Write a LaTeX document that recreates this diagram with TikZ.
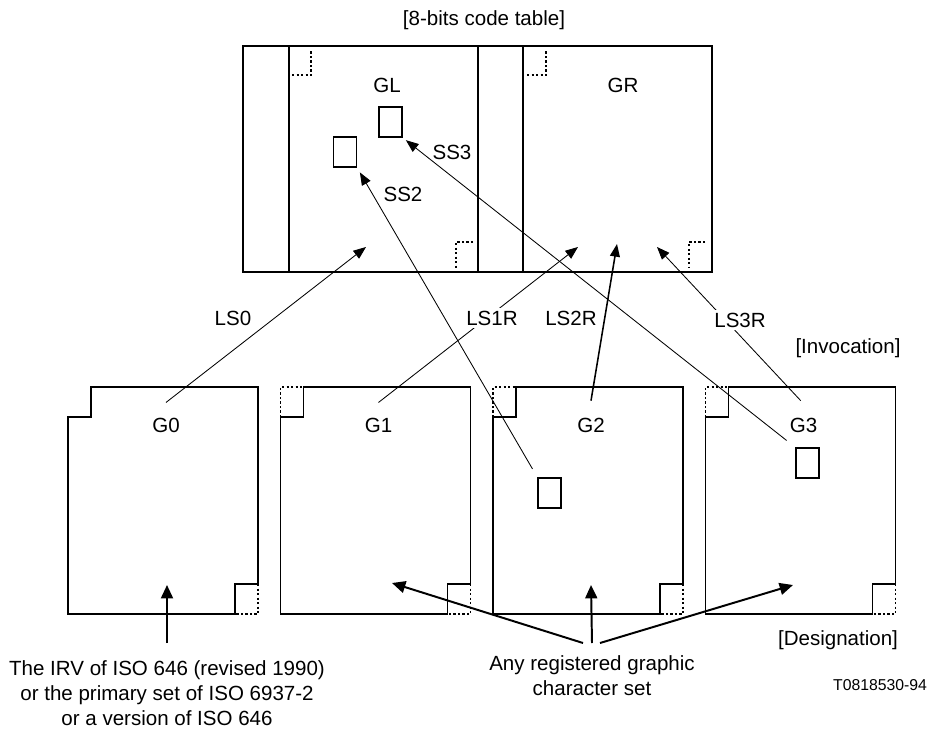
\documentclass[tikz,border=0pt]{standalone}
\usepackage{fontspec}
\setmainfont{Liberation Sans}
\usetikzlibrary{arrows.meta}

\begin{document}
\begin{tikzpicture}[x=0.025cm,y=-0.025cm,
    every node/.style={font=\fontsize{14.6}{17.8}\selectfont,inner sep=0pt},
    frame/.style={line width=0.9pt},
    divider/.style={line width=1.5pt},
    corner/.style={line width=0.8pt,dash pattern=on 1.6pt off 1.6pt},
    cell/.style={draw,line width=0.8pt,minimum width=0.575cm,minimum height=0.75cm},
    link/.style={line width=0.6pt,-{Triangle[length=9pt,width=7pt]}},
    desarrow/.style={line width=1.4pt,-{Triangle[length=9.5pt,width=8.5pt]}}]
  \useasboundingbox (0,0) rectangle (931,729);
  % code table
  \node (title) at (484,20) {[8-bits code table]};
  \draw[frame] (243,46) rectangle (712,272);
  \foreach \xd in {289,478,523}
    \draw[divider] (\xd,46) -- (\xd,272);
  \foreach \xc in {311,546}
    \draw[corner] (\xc-19,75) -- (\xc,75) -- (\xc,50);
  \draw[corner] (473,242) -- (456,242) -- (456,268);
  \draw[corner] (705,242) -- (689,242) -- (689,268);
  \node (gl) at (387,85) {GL};
  \node (gr) at (623,85) {GR};
  \node[cell] (ss3cell) at (390.5,122) {};
  \node[cell] (ss2cell) at (345,152) {};
  \node (ss3) at (452,152) {SS3};
  \node (ss2) at (403,194) {SS2};
  \coordinate (ls0tip) at (366,247);
  \coordinate (ls1tip) at (578,247);
  \coordinate (ls2tip) at (617,244);
  \coordinate (ls3tip) at (657,247);
  % graphic sets G0..G3
  \foreach \i/\lx in {0/68,1/280.5,2/493,3/705.5} {
    \draw[frame] (\lx+23,387) -- (\lx+190,387) -- (\lx+190,584) -- (\lx+167,584)
      -- (\lx+167,614) -- (\lx,614) -- (\lx,417) -- (\lx+23,417) -- cycle;
    \draw[corner] (\lx+190,584) -- (\lx+190,614) -- (\lx+167,614);
    \node (g\i) at (\lx+98,425) {G\i};
  }
  \foreach \lx in {280.5,493,705.5}
    \draw[corner] (\lx,417) -- (\lx,387) -- (\lx+23,387);
  \node[cell] (g2cell) at (549.5,493) {};
  \node[cell] (g3cell) at (807.5,463) {};
  % invocation
  \draw[link] ([yshift=0.375cm]g0.north) -- (ls0tip);
  \draw[link] ([yshift=0.375cm]g1.north) -- (ls1tip);
  \draw[link,line width=1.1pt] ([yshift=0.42cm]g2.north) -- (ls2tip);
  \draw[link] ([xshift=-0.07cm,yshift=0.42cm]g3.north) -- (ls3tip);
  \draw[link,shorten <=7pt,shorten >=4pt] (g2cell.north west) -- (ss2cell.south east);
  \draw[link,shorten <=8pt,shorten >=3pt] (g3cell.north west) -- (ss3cell.south east);
  \node (ls0) at (233,318) {LS0};
  \node[fill=white,inner sep=2pt] (ls1r) at (492,318) {LS1R};
  \node (ls2r) at (571,318) {LS2R};
  \node[fill=white,inner sep=2pt] (ls3r) at (740,320) {LS3R};
  \node (invocation) at (848,348) {[Invocation]};
  % designation
  \coordinate (d0tip) at (167,585);
  \coordinate (d1tip) at (392,583);
  \coordinate (d2tip) at (591,585);
  \coordinate (d3tip) at (793,585);
  \node[align=center,anchor=north] (irv) at (167,660)
    {The IRV of ISO 646 (revised 1990)\\or the primary set of ISO 6937-2\\or a version of ISO 646};
  \node[align=center,anchor=north] (anyset) at (592,655)
    {Any registered graphic\\character set};
  \draw[desarrow] ([yshift=0.425cm]irv.north) -- (d0tip);
  \draw[desarrow] ([xshift=-0.225cm,yshift=0.3cm]anyset.north) -- (d1tip);
  \draw[desarrow] ([yshift=0.3cm]anyset.north) -- (d2tip);
  \draw[desarrow] ([xshift=0.2cm,yshift=0.3cm]anyset.north) -- (d3tip);
  \node (designation) at (838,640) {[Designation]};
  \node[font=\fontsize{11.2}{13}\selectfont] (figno) at (880,685) {T0818530-94};
\end{tikzpicture}
\end{document}
